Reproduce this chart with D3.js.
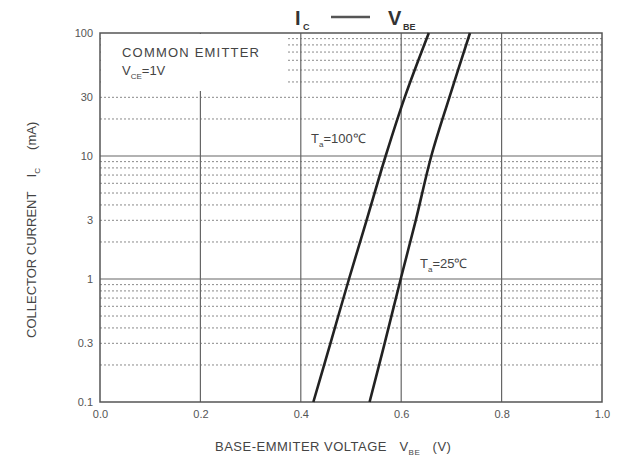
<html>
<script src="https://d3js.org/d3.v7.min.js"></script>
<style>
  body { margin: 0; background: #fff; }
  text { font-family: "Liberation Sans", Arial, sans-serif; fill: #444; white-space: pre; }
</style>
<body>
<div id="chart_area"></div>
</body>
<script>
// collector current (mA) sample points
var ic_points = [0.1, 0.3, 1, 3, 10, 30, 100];
// base-emitter voltage (V) for each temperature
var vbe_100C = [0.425, 0.459, 0.496, 0.531, 0.569, 0.607, 0.655];
var vbe_25C  = [0.537, 0.567, 0.599, 0.629, 0.660, 0.696, 0.737];

var x_ticks = [0.0, 0.2, 0.4, 0.6, 0.8, 1.0];
var y_ticks = [0.1, 0.3, 1, 3, 10, 30, 100];
var y_tick_labels = ["0.1", "0.3", "1", "3", "10", "30", "100"];

var width = 618, height = 459;
var plot = {left: 100, right: 602, top: 33, bottom: 402};

var svg = d3.select("#chart_area").append("svg")
    .attr("width", width).attr("height", height);

var x = d3.scaleLinear().domain([0, 1]).range([plot.left, plot.right]);
var y = d3.scaleLog().domain([0.1, 100]).range([plot.bottom, plot.top]);

// minor dotted horizontal lines (2..9 of each decade)
var minor = [];
[0.1, 1, 10].forEach(function(dec) {
    for (var k = 2; k <= 9; k++) minor.push(dec * k);
});
svg.append("g").selectAll("line").data(minor).enter().append("line")
    .attr("x1", plot.left).attr("x2", plot.right)
    .attr("y1", d => y(d)).attr("y2", d => y(d))
    .attr("stroke", "#8a8a8a").attr("stroke-width", 1)
    .attr("stroke-dasharray", "2,2");

// major grid
svg.append("g").selectAll("line").data([1, 10]).enter().append("line")
    .attr("x1", plot.left).attr("x2", plot.right)
    .attr("y1", d => y(d)).attr("y2", d => y(d))
    .attr("stroke", "#666").attr("stroke-width", 1.2);
svg.append("g").selectAll("line").data([0.2, 0.4, 0.6, 0.8]).enter().append("line")
    .attr("x1", d => x(d)).attr("x2", d => x(d))
    .attr("y1", plot.top).attr("y2", plot.bottom)
    .attr("stroke", "#666").attr("stroke-width", 1.2);

// blank box behind the condition note
svg.append("rect")
    .attr("x", plot.left + 1).attr("y", plot.top + 1)
    .attr("width", 187).attr("height", 57)
    .attr("fill", "#fff");

// frame
svg.append("rect")
    .attr("x", plot.left).attr("y", plot.top)
    .attr("width", plot.right - plot.left).attr("height", plot.bottom - plot.top)
    .attr("fill", "none").attr("stroke", "#555").attr("stroke-width", 1.5);

// curves
var line = d3.line().curve(d3.curveCatmullRom);
function draw_curve(vals) {
    var pts = ic_points.map(function(ic, i) { return [x(vals[i]), y(ic)]; });
    svg.append("path").attr("d", line(pts))
        .attr("fill", "none").attr("stroke", "#222").attr("stroke-width", 2.6);
}
draw_curve(vbe_100C);
draw_curve(vbe_25C);

// axes
var xAxis = svg.append("g")
    .attr("transform", "translate(0," + plot.bottom + ")")
    .call(d3.axisBottom(x).tickValues(x_ticks).tickSize(0).tickPadding(8).tickFormat(d3.format(".1f")));
xAxis.select(".domain").remove();
xAxis.selectAll("text").style("font-size", "11px").style("fill", "#555");

var yAxis = svg.append("g")
    .attr("transform", "translate(" + plot.left + ",0)")
    .call(d3.axisLeft(y).tickValues(y_ticks).tickSize(0).tickPadding(7)
        .tickFormat(function(d, i) { return y_tick_labels[i]; }));
yAxis.select(".domain").remove();
yAxis.selectAll("text").style("font-size", "11px").style("fill", "#555");

// condition note
svg.append("text").attr("x", 122).attr("y", 57)
    .style("font-size", "13px").style("letter-spacing", "1.2px").text("COMMON EMITTER");
var vce = svg.append("text").attr("x", 122).attr("y", 75).style("font-size", "13px");
vce.append("tspan").text("V");
vce.append("tspan").attr("dy", 4).style("font-size", "8px").text("CE");
vce.append("tspan").attr("dy", -4).text("=1V");

// temperature labels
function temp_label(xp, yp, t) {
    var tl = svg.append("text").attr("x", xp).attr("y", yp).style("font-size", "13px");
    tl.append("tspan").text("T");
    tl.append("tspan").attr("dy", 4).style("font-size", "8px").text("a");
    tl.append("tspan").attr("dy", -4).text("=" + t + "\u2103");
}
temp_label(311, 143, "100");
temp_label(420, 268, "25");

// chart title
var title = svg.append("g");
title.append("text").attr("x", 295).attr("y", 25)
    .style("font-size", "20px").style("font-weight", "bold").style("fill", "#333").text("I");
title.append("text").attr("x", 303).attr("y", 30)
    .style("font-size", "9px").style("font-weight", "bold").style("fill", "#333").text("C");
title.append("line").attr("x1", 331).attr("x2", 370).attr("y1", 17).attr("y2", 17)
    .attr("stroke", "#555").attr("stroke-width", 2.5);
title.append("text").attr("x", 388).attr("y", 25)
    .style("font-size", "20px").style("font-weight", "bold").style("fill", "#333").text("V");
title.append("text").attr("x", 403).attr("y", 30)
    .style("font-size", "9px").style("font-weight", "bold").style("fill", "#333").text("BE");

// x axis title
var xt = svg.append("text").attr("x", 215).attr("y", 451)
    .style("font-size", "13px").style("letter-spacing", "0.5px");
xt.append("tspan").text("BASE-EMMITER VOLTAGE   V");
xt.append("tspan").attr("dy", 4).style("font-size", "8px").text("BE");
xt.append("tspan").attr("dy", -4).text("   (V)");

// y axis title
var yt = svg.append("text")
    .attr("transform", "translate(36,338) rotate(-90)")
    .style("font-size", "13px");
yt.append("tspan").text("COLLECTOR CURRENT    I");
yt.append("tspan").attr("dy", 4).style("font-size", "8px").text("C");
yt.append("tspan").attr("dy", -4).text("     (mA)");
</script>
</html>
